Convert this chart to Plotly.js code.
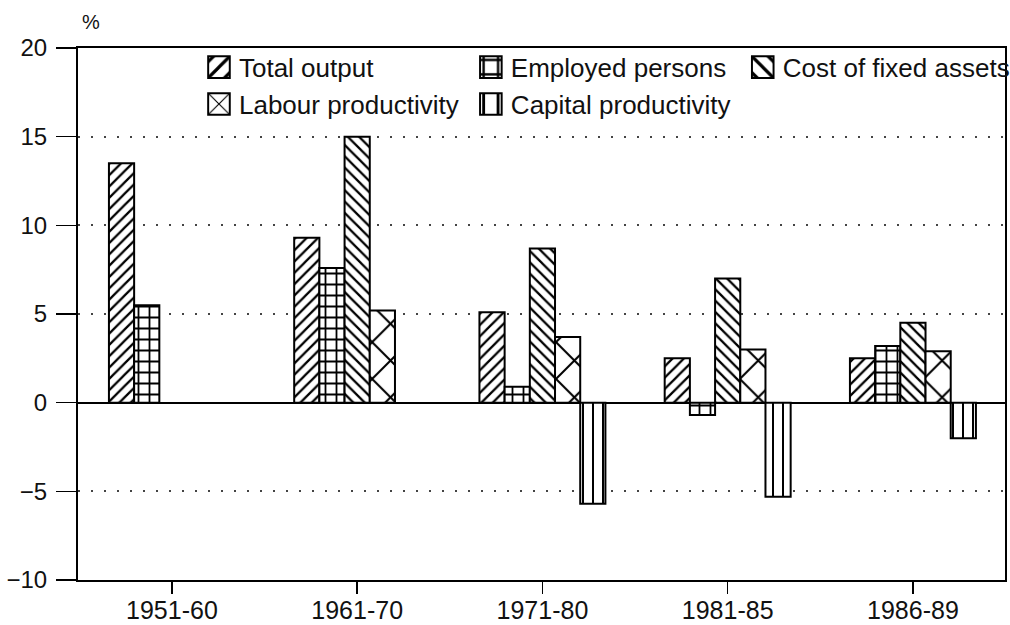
<!DOCTYPE html>
<html>
<head>
<meta charset="utf-8">
<script src="https://cdn.plot.ly/plotly-3.0.1.min.js"></script>
<style>
  html, body { margin: 0; padding: 0; background: #ffffff; }
  #chart { width: 1010px; height: 625px; }
</style>
</head>
<body>
<div id="chart"></div>
<script>
// ---- data ----
const categories = ['1951-60', '1961-70', '1971-80', '1981-85', '1986-89'];
const totalOutput = [13.5, 9.3, 5.1, 2.5, 2.5];
const employedPersons = [5.5, 7.6, 0.9, -0.7, 3.2];
const costFixedAssets = [null, 15.0, 8.7, 7.0, 4.5];
const labourProductivity = [null, 5.2, 3.7, 3.0, 2.9];
const capitalProductivity = [null, null, -5.7, -5.3, -2.0];

const seriesNames = ['Total output', 'Employed persons', 'Cost of fixed assets',
                     'Labour productivity', 'Capital productivity'];
const seriesValues = [totalOutput, employedPersons, costFixedAssets,
                      labourProductivity, capitalProductivity];

// ---- styles ----
const patterns = [
  {shape: '/', size: 8, solidity: 0.28},
  {shape: '+', size: 11, solidity: 0.3},
  {shape: '\\', size: 8, solidity: 0.28},
  {shape: 'x', size: 26, solidity: 0.15},
  {shape: '|', size: 10, solidity: 0.2}
];

const FONT = 'Liberation Sans, Arial, Helvetica, sans-serif';

const traces = seriesNames.map((name, i) => ({
  type: 'bar',
  name: name,
  x: categories,
  y: seriesValues[i],
  marker: {
    color: 'white',
    line: {color: 'black', width: 2},
    pattern: {
      shape: patterns[i].shape,
      size: patterns[i].size,
      solidity: patterns[i].solidity,
      fgcolor: 'black',
      fgopacity: 1,
      bgcolor: 'white',
      fillmode: 'replace'
    }
  },
  hoverinfo: 'x+y+name'
}));

const layout = {
  width: 1010,
  height: 625,
  margin: {l: 78, r: 5, t: 48, b: 45, autoexpand: false},
  paper_bgcolor: 'white',
  plot_bgcolor: 'white',
  font: {family: FONT, color: '#111'},
  barmode: 'group',
  bargap: 0.32,
  bargroupgap: 0,
  showlegend: true,
  legend: {
    orientation: 'h',
    x: 0.1305,
    xanchor: 'left',
    y: 1.008,
    yanchor: 'top',
    bgcolor: 'rgba(0,0,0,0)',
    borderwidth: 0,
    font: {family: FONT, size: 26, color: '#111'},
    traceorder: 'normal'
  },
  xaxis: {
    type: 'category',
    range: [-0.507, 4.497],
    showline: true,
    linecolor: 'black',
    linewidth: 2,
    mirror: true,
    ticks: 'outside',
    ticklen: 12,
    tickwidth: 1.5,
    tickcolor: 'black',
    ticklabelstandoff: -5,
    showgrid: false,
    tickfont: {family: FONT, size: 25, color: '#111'},
    fixedrange: true
  },
  yaxis: {
    range: [-10, 20],
    tick0: 0,
    dtick: 5,
    showline: true,
    linecolor: 'black',
    linewidth: 2,
    mirror: true,
    ticks: 'outside',
    ticklen: 20,
    tickwidth: 1.5,
    tickcolor: 'black',
    ticklabelstandoff: 4,
    showgrid: true,
    gridcolor: '#444',
    gridwidth: 2,
    griddash: '2px,11px',
    zeroline: true,
    zerolinecolor: 'black',
    zerolinewidth: 2,
    tickfont: {family: FONT, size: 24, color: '#111'},
    fixedrange: true
  },
  annotations: [{
    text: '%',
    xref: 'paper', yref: 'paper',
    x: 0.014, y: 1.049,
    xanchor: 'center', yanchor: 'middle',
    showarrow: false,
    font: {family: FONT, size: 20, color: '#111'}
  }]
};

Plotly.newPlot('chart', traces, layout, {staticPlot: true, displayModeBar: false}).then(function (gd) {
  // enlarge the legend swatches to the size used in the reference
  document.querySelectorAll('#chart .legend .legendpoints path').forEach(function (p) {
    var t = p.getAttribute('transform') || '';
    p.setAttribute('transform', t + ' scale(1.8)');
    p.style.strokeWidth = '1.1px';
  });
});
</script>
</body>
</html>
